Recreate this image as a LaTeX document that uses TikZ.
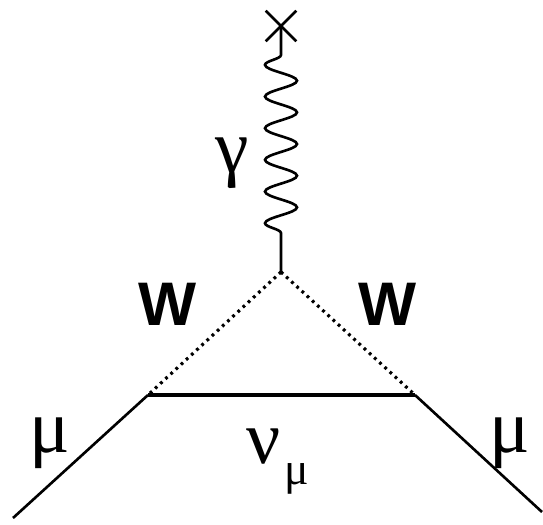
\documentclass[tikz,border=0pt]{standalone}
\usepackage{fontspec}
\setsansfont{Liberation Sans}
\newfontfamily\greekfont{Liberation Serif}
\usetikzlibrary{decorations.pathmorphing,shapes.misc}

\tikzset{
  fermion/.style={line width=1.5pt},
  neutrino/.style={line width=2.6pt},
  wboson/.style={line width=1.8pt, dash pattern=on 1.6pt off 2.4pt},
  photon/.style={line width=1.5pt, decorate,
    decoration={snake, mirror, segment length=0.6333cm, amplitude=0.32cm,
      pre length=0.58cm, post length=0.54cm}},
  greek/.style={font=\greekfont\fontsize{43}{48}\selectfont, inner sep=0pt, anchor=base},
  wlabel/.style={font=\sffamily\bfseries\fontsize{35}{40}\selectfont, inner sep=0pt, anchor=base}
}

\begin{document}
\begin{tikzpicture}[x=0.02cm, y=-0.02cm]
    \useasboundingbox (0,0) rectangle (543,524);
    \node[cross out, draw, line width=1.5pt, minimum size=0.56cm, inner sep=0pt] (X) at (281,26) {};
    \coordinate (T) at (281,272);
    \coordinate (L) at (148,395); \coordinate (R) at (415,395);
    \coordinate (mi) at (13,518); \coordinate (mo) at (542,512);
    \draw[photon] (X.center) -- (T);
    \draw[wboson] (T) -- (L); \draw[wboson] (T) -- (R);
    \draw[neutrino] (L) -- (R);
    \draw[fermion] (mi) -- (L); \draw[fermion] (R) -- (mo);
    \node[greek] (gamma) at (232,172) {γ};
    \node[wlabel] (W1) at (168,325) {W}; \node[wlabel] (W2) at (388,325) {W};
    \node[greek] (mu1) at (50,452) {μ}; \node[greek] (mu2) at (510,452) {μ};
    \node[greek] (nu) at (278,463)
    {ν\hspace{2pt}\raisebox{-12pt}{\fontsize{26}{30}\selectfont μ}};
\end{tikzpicture}
\end{document}
